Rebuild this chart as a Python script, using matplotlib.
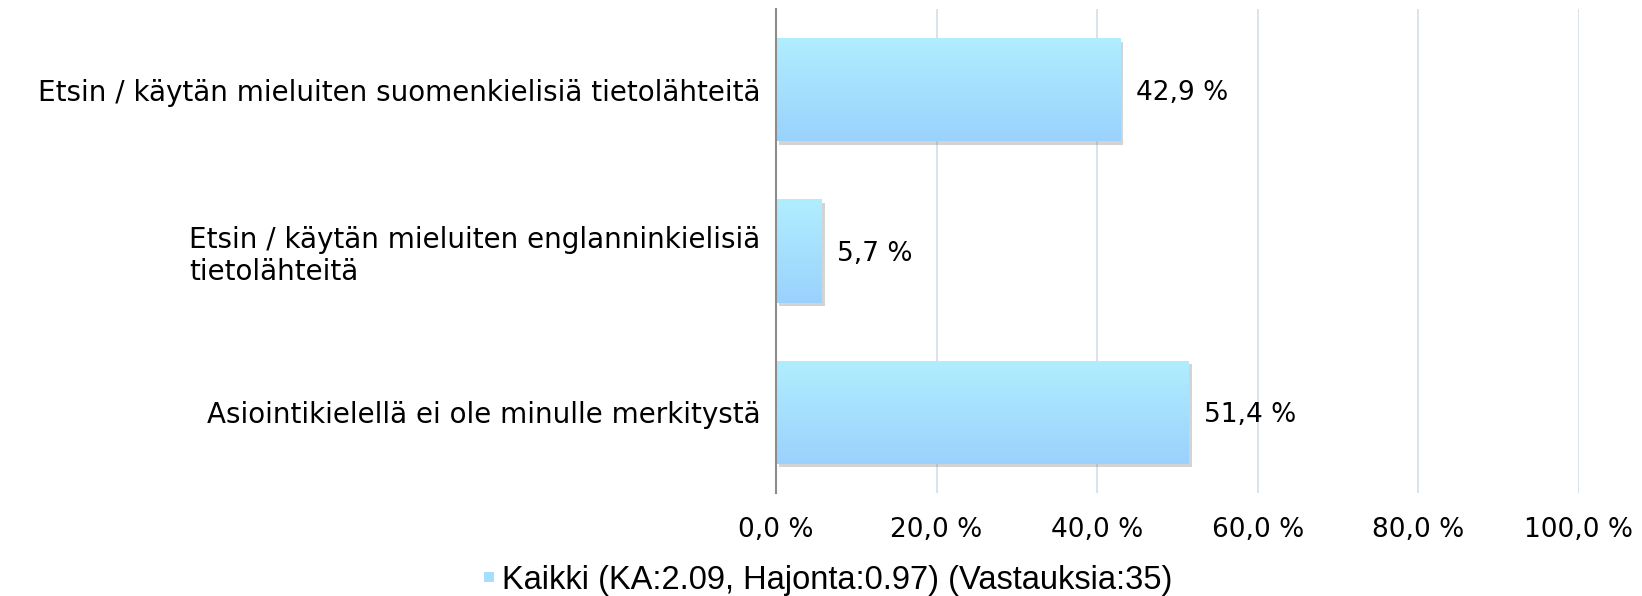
import matplotlib
matplotlib.use('Agg')
import matplotlib.pyplot as plt
import numpy as np
from matplotlib import patheffects as pe
from matplotlib.lines import Line2D

# ---- data ----
categories = [
    "Etsin / käytän mieluiten suomenkielisiä tietolähteitä",
    "Etsin / käytän mieluiten englanninkielisiä\ntietolähteitä",
    "Asiointikielellä ei ole minulle merkitystä",
]
values = [42.9, 5.7, 51.4]
xticks = [0, 20, 40, 60, 80, 100]
xtick_labels = ["0,0 %", "20,0 %", "40,0 %", "60,0 %", "80,0 %", "100,0 %"]
legend_label = "Kaikki (KA:2.09, Hajonta:0.97) (Vastauksia:35)"

# ---- style ----
top_color = np.array([0xB0, 0xEE, 0xFF]) / 255
bot_color = np.array([0x9A, 0xD2, 0xFD]) / 255
grid_color = '#D6E0EC'
axis_color = '#8C8C8C'

W, H = 1642, 596
fig = plt.figure(figsize=(W / 100, H / 100), dpi=100)
ax = fig.add_axes([776 / W, 1 - 493 / H, (1579 - 776) / W, (493 - 9) / H])

ypos = np.arange(len(categories))
bars = ax.barh(ypos, values, height=0.64, color=(top_color + bot_color) / 2,
               zorder=2, linewidth=0)
for b in bars:
    b.set_path_effects([pe.SimplePatchShadow(offset=(2, -2.5), shadow_rgbFace='#707070', alpha=0.3),
                        pe.Normal()])

# gradient overlay
grad = np.linspace(0, 1, 64)[:, None, None]
img = top_color[None, None, :] * (1 - grad) + bot_color[None, None, :] * grad
img = np.repeat(img, 2, axis=1)
for b in bars:
    x0, y0, w, h = b.get_x(), b.get_y(), b.get_width(), b.get_height()
    im = ax.imshow(img, extent=(x0, x0 + w, y0 + h, y0), aspect='auto',
                   origin='upper', zorder=3, interpolation='bilinear')
    im.set_clip_path(b)

ax.set_xlim(0, 100)
ax.set_ylim(len(categories) - 0.5, -0.5)

ax.set_xticks(xticks)
ax.set_xticklabels(xtick_labels, fontsize=19, family='DejaVu Sans')
ax.set_yticks(ypos)
ax.set_yticklabels(categories, fontsize=20, family='DejaVu Sans', multialignment='left')
ax.tick_params(axis='x', length=0, pad=17)
ax.tick_params(axis='y', length=0, pad=11)

ax.xaxis.grid(True, color=grid_color, linewidth=1.3, zorder=0)
ax.set_axisbelow(True)
for s in ['top', 'right', 'bottom']:
    ax.spines[s].set_visible(False)
ax.spines['left'].set_color(axis_color)
ax.spines['left'].set_linewidth(1.5)
ax.spines['left'].set_zorder(4)

for yv, v in zip(ypos, values):
    ax.annotate(f"{v:.1f} %".replace('.', ','), xy=(v, yv), xytext=(11, 0),
                textcoords='offset points', ha='left', va='center_baseline',
                fontsize=19, family='DejaVu Sans', color='black')

handle = Line2D([], [], marker='s', linestyle='none', markersize=7,
                markerfacecolor='#A5DEFE', markeredgewidth=0)
fig.legend([handle], [legend_label], loc='center', bbox_to_anchor=(827 / W, 1 - 580 / H),
           frameon=False, prop={'family': 'Liberation Sans', 'size': 23.5},
           handlelength=0.4, handletextpad=0.2, borderpad=0)

fig.savefig('out.png', dpi=100)
